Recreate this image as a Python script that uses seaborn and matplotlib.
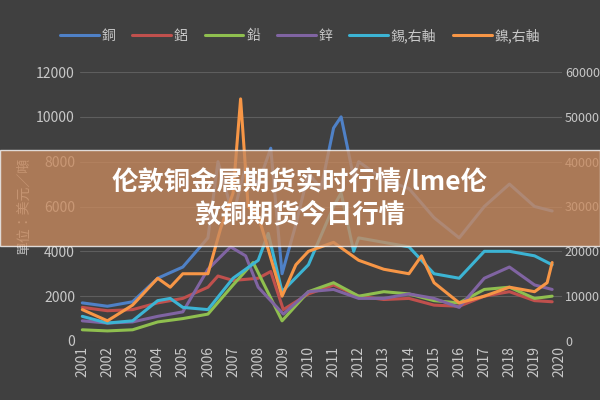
import matplotlib
matplotlib.use('Agg')
import matplotlib.pyplot as plt
import matplotlib.patches as patches
import pandas as pd
import seaborn as sns

# decimal year, value
copper_t = [2001, 2002, 2003, 2004, 2005, 2006, 2006.4, 2007, 2007.5, 2008, 2008.5, 2008.95, 2009.5, 2010, 2010.5, 2011, 2011.3, 2011.8, 2012, 2013, 2014, 2015, 2016, 2017, 2018, 2019, 2019.7]
copper_v = [1700, 1550, 1750, 2800, 3300, 4600, 8000, 5600, 7800, 7000, 8600, 3000, 5200, 7500, 6800, 9500, 10000, 7300, 8000, 7200, 6800, 5500, 4600, 6000, 7000, 6000, 5800]
alu_t = [2001, 2002, 2003, 2004, 2005, 2006, 2006.4, 2007, 2008, 2008.5, 2009, 2010, 2011, 2012, 2013, 2014, 2015, 2016, 2017, 2018, 2019, 2019.7]
alu_v = [1500, 1350, 1400, 1700, 1900, 2400, 2900, 2700, 2800, 3100, 1400, 2100, 2500, 2000, 1850, 1900, 1600, 1550, 2000, 2200, 1800, 1750]
lead_t = [2001, 2002, 2003, 2004, 2005, 2006, 2007, 2007.8, 2008.95, 2010, 2011, 2012, 2013, 2014, 2015, 2016, 2017, 2018, 2019, 2019.7]
lead_v = [500, 450, 500, 850, 1000, 1200, 2500, 3500, 900, 2200, 2600, 2000, 2200, 2100, 1800, 1700, 2300, 2400, 1900, 2000]
zinc_t = [2001, 2002, 2003, 2004, 2005, 2006, 2006.9, 2007.5, 2008, 2009, 2010, 2011, 2012, 2013, 2014, 2015, 2016, 2017, 2018, 2019, 2019.7]
zinc_v = [900, 800, 850, 1100, 1300, 3200, 4200, 3800, 2400, 1200, 2200, 2300, 1900, 1900, 2100, 1900, 1500, 2800, 3300, 2500, 2300]
tin_t = [2001, 2002, 2003, 2004, 2004.5, 2005, 2006, 2007, 2008, 2008.4, 2008.95, 2010, 2011, 2011.3, 2011.8, 2012, 2013, 2014, 2015, 2016, 2017, 2018, 2019, 2019.7]
tin_v = [5500, 4000, 4500, 9000, 9500, 7500, 7000, 14000, 18000, 24000, 11000, 17000, 30000, 33000, 20000, 23000, 22000, 21000, 15000, 14000, 20000, 20000, 19000, 17000]
nickel_t = [2001, 2002, 2003, 2004, 2004.5, 2005, 2006, 2006.5, 2007, 2007.3, 2007.6, 2008, 2008.95, 2009.5, 2010, 2011, 2012, 2013, 2014, 2014.5, 2015, 2016, 2017, 2018, 2019, 2019.5, 2019.7]
nickel_v = [7000, 4500, 8000, 14000, 12000, 15000, 15000, 25000, 33000, 54000, 30000, 28000, 10000, 17000, 20000, 22000, 18000, 16000, 15000, 19000, 13000, 8500, 10000, 12000, 11000, 13000, 17500]

left_series = [('銅', copper_t, copper_v, '#4f81c7'), ('鋁', alu_t, alu_v, '#c0504d'),
               ('鉛', lead_t, lead_v, '#8fbf4f'), ('鋅', zinc_t, zinc_v, '#8064a2')]
right_series = [('錫,右軸', tin_t, tin_v, '#3cb4d4'), ('鎳,右軸', nickel_t, nickel_v, '#f79646')]
years = list(range(2001, 2021))

sns.set_theme(style='dark')
plt.rcParams['font.family'] = ['Noto Sans CJK TC', 'DejaVu Sans']
bg = '#404040'
fig = plt.figure(figsize=(6, 4), dpi=100, facecolor=bg)
ax = fig.add_axes([0.133, 0.1475, 0.804, 0.6725], facecolor=bg)
ax2 = ax.twinx()

for name, t, v, c in left_series:
    df = pd.DataFrame({'t': t, 'v': v})
    sns.lineplot(data=df, x='t', y='v', ax=ax, color=c, lw=2.2, label=name, legend=False)
for name, t, v, c in right_series:
    df = pd.DataFrame({'t': t, 'v': v})
    sns.lineplot(data=df, x='t', y='v', ax=ax2, color=c, lw=2.2, label=name, legend=False)

ax.set_ylim(0, 12000)
ax2.set_ylim(0, 60000)
ax.set_xlim(2000.9, 2020.1)
ax.set_yticks(range(0, 12001, 2000))
ax2.set_yticks(range(0, 60001, 10000))
ax.set_xticks(years)
ax.set_xticklabels([str(y) for y in years], rotation=90)
ax.grid(axis='y', color='#5e5e5e', lw=0.8)
ax.set_xlabel('')
ax.set_ylabel('單位：美元／噸', color='#bbbbbb', fontsize=10)
ax2.set_ylabel('')
for a in (ax, ax2):
    a.tick_params(colors='#c8c8c8', labelsize=10, length=0)
    for s in a.spines.values():
        s.set_visible(False)
ax2.tick_params(labelsize=9, pad=2)
ax2.patch.set_visible(False)

h1, l1 = ax.get_legend_handles_labels()
h2, l2 = ax2.get_legend_handles_labels()
fig.legend(h1 + h2, l1 + l2, loc='center', bbox_to_anchor=(0.5, 0.91), ncol=6, frameon=False,
           labelcolor='#c8c8c8', fontsize=10, handlelength=2.8, columnspacing=1.2, handletextpad=0.2)

# banner overlay
fig.patches.append(patches.Rectangle((0, 0.385), 1, 0.24, transform=fig.transFigure,
                                     facecolor='#c98a5e', alpha=0.78, zorder=10))
fig.text(0.5, 0.505, '伦敦铜金属期货实时行情/lme伦\n敦铜期货今日行情', ha='center', va='center',
         color='white', fontsize=19, fontweight='bold', zorder=11, linespacing=1.25,
         family=['Noto Sans CJK SC', 'DejaVu Sans'])

fig.savefig('out.png', dpi=100, facecolor=bg)
